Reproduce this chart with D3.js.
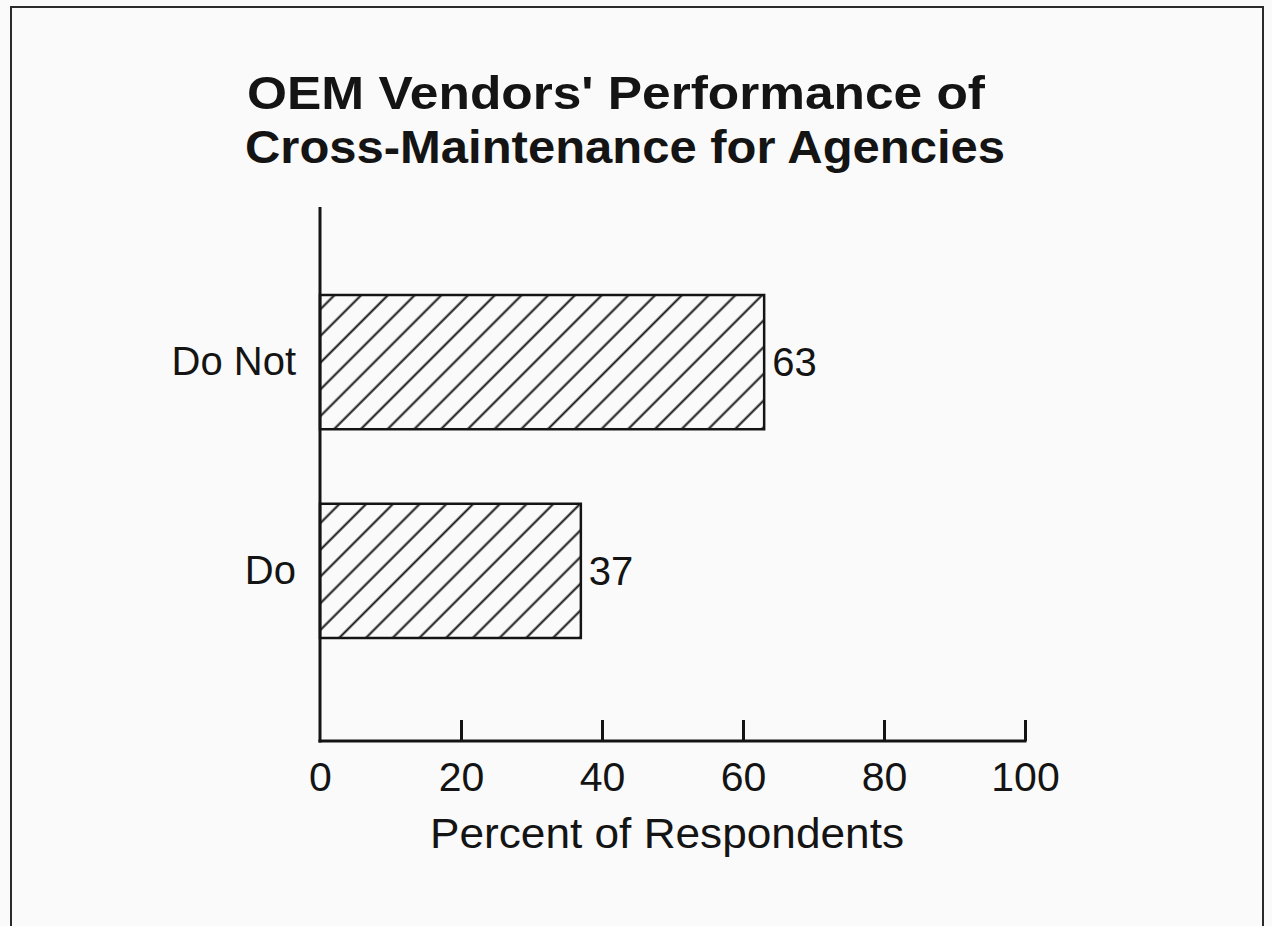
<!DOCTYPE html>
<html>
<head>
<meta charset="utf-8">
<script src="https://cdn.jsdelivr.net/npm/d3@7"></script>
<style>
  body { margin: 0; background: #fafafa; }
  svg { display: block; }
  text { font-family: "Liberation Sans", Arial, Helvetica, sans-serif; fill: #141414; }
</style>
</head>
<body>
<svg id="chart" width="1272" height="926"></svg>
<script>
// data
var categories = ["Do Not", "Do"];
var percents = [63, 37];
var xTicks = [0, 20, 40, 60, 80, 100];
var titleLines = ["OEM Vendors' Performance of", "Cross-Maintenance for Agencies"];
var xTitle = "Percent of Respondents";

var width = 1272, height = 926;
var svg = d3.select("#chart");

// frame round the page (bottom edge runs off the picture)
svg.append("rect")
  .attr("x", 11).attr("y", 7)
  .attr("width", 1252).attr("height", 960)
  .attr("fill", "#fafafa")
  .attr("stroke", "#2a2a2a")
  .attr("stroke-width", 2);

// hatch pattern, "/" lines
var defs = svg.append("defs");
var pat = defs.append("pattern")
  .attr("id", "hatch")
  .attr("patternUnits", "userSpaceOnUse")
  .attr("width", 18.9).attr("height", 18.9)
  .attr("patternTransform", "rotate(45)");
pat.append("rect").attr("width", 18.9).attr("height", 18.9).attr("fill", "#fafafa");
pat.append("line")
  .attr("x1", 10.5).attr("y1", -2).attr("x2", 10.5).attr("y2", 21)
  .attr("stroke", "#141414").attr("stroke-width", 2);

// title, two lines stretched to the widths in the picture
var titleBox = [{cx: 616, y: 109, w: 738}, {cx: 625, y: 163, w: 760}];
titleLines.forEach(function(line, i) {
  svg.append("text")
    .attr("x", titleBox[i].cx - titleBox[i].w / 2)
    .attr("y", titleBox[i].y)
    .attr("textLength", titleBox[i].w)
    .attr("lengthAdjust", "spacingAndGlyphs")
    .style("font-size", "46px")
    .style("font-weight", "bold")
    .text(line);
});

var x = d3.scaleLinear().domain([0, 100]).range([320, 1025]);
var y = d3.scaleBand().domain(categories).range([295, 638]).paddingInner(0.357).paddingOuter(0);
var axisY = 741;

// bars
svg.selectAll(".bar")
  .data(percents)
  .enter().append("rect")
  .attr("class", "bar")
  .attr("x", x(0))
  .attr("y", function(d, i) { return y(categories[i]); })
  .attr("width", function(d) { return x(d) - x(0); })
  .attr("height", y.bandwidth())
  .attr("fill", "url(#hatch)")
  .attr("stroke", "#141414")
  .attr("stroke-width", 2.5);

// value labels
svg.selectAll(".val")
  .data(percents)
  .enter().append("text")
  .attr("class", "val")
  .attr("x", function(d) { return x(d) + 8; })
  .attr("y", function(d, i) { return y(categories[i]) + y.bandwidth() / 2 + 14; })
  .style("font-size", "40px")
  .text(function(d) { return d; });

// category labels
svg.selectAll(".cat")
  .data(categories)
  .enter().append("text")
  .attr("class", "cat")
  .attr("x", 296)
  .attr("y", function(d) { return y(d) + y.bandwidth() / 2 + 13; })
  .attr("text-anchor", "end")
  .style("font-size", "40px")
  .text(function(d) { return d; });

// y axis line
svg.append("line")
  .attr("x1", x(0)).attr("x2", x(0))
  .attr("y1", 207).attr("y2", axisY + 1.5)
  .attr("stroke", "#141414").attr("stroke-width", 3);

// x axis, ticks point upward
var xAxis = d3.axisBottom(x).tickValues(xTicks).tickSize(0).tickPadding(0).tickFormat(d3.format("d"));
var gx = svg.append("g")
  .attr("transform", "translate(0," + axisY + ")")
  .call(xAxis);
gx.select(".domain").remove();
gx.selectAll(".tick text")
  .attr("y", 50)
  .attr("dy", null)
  .style("font-size", "41px")
  .style("font-family", "\"Liberation Sans\", Arial, sans-serif")
  .attr("fill", "#141414");
gx.selectAll(".tick")
  .filter(function(d) { return d > 0; })
  .append("line")
  .attr("y1", 0).attr("y2", -21)
  .attr("stroke", "#141414").attr("stroke-width", 3);
svg.append("line")
  .attr("x1", x(0) - 1.5).attr("x2", x(100) + 1.5)
  .attr("y1", axisY).attr("y2", axisY)
  .attr("stroke", "#141414").attr("stroke-width", 3);

// axis title
svg.append("text")
  .attr("x", 667 - 237).attr("y", 848)
  .attr("textLength", 474)
  .attr("lengthAdjust", "spacingAndGlyphs")
  .style("font-size", "42px")
  .text(xTitle);
</script>
</body>
</html>
